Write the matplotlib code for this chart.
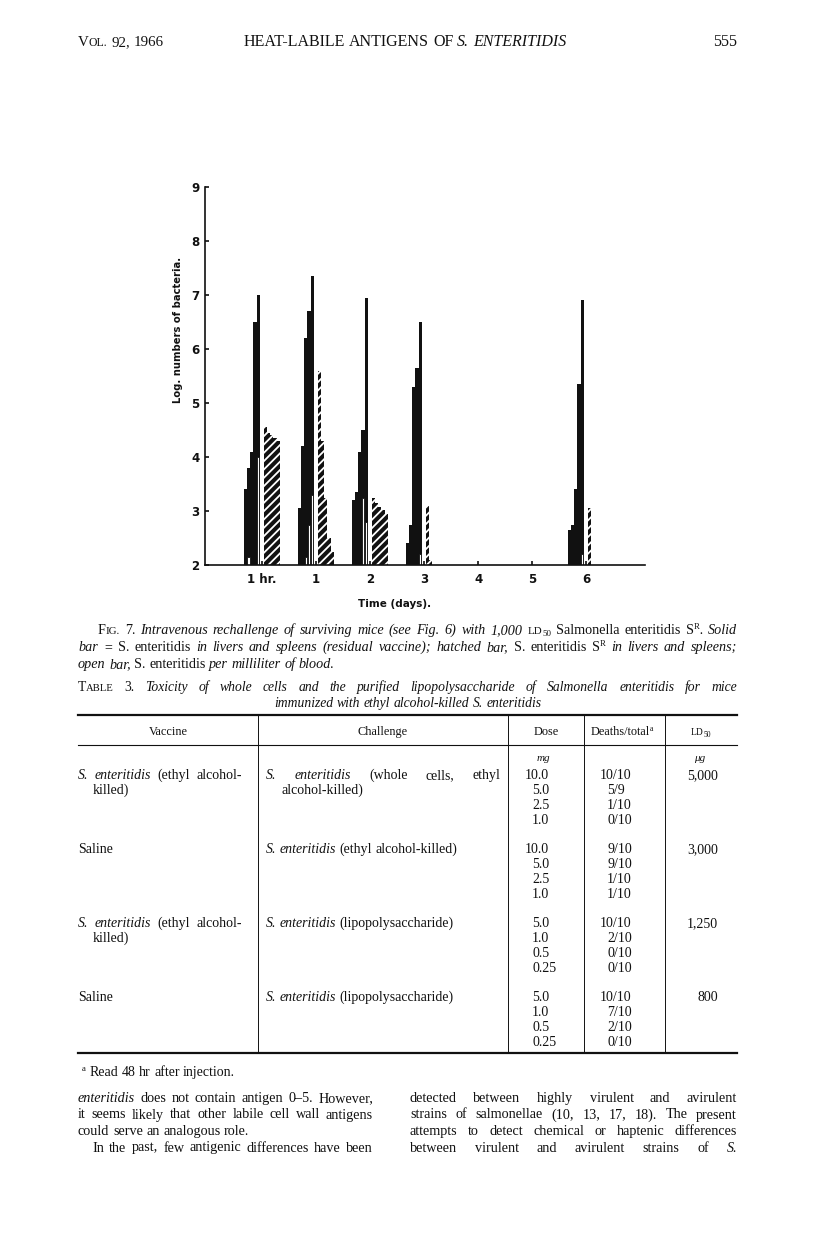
import numpy as np
import matplotlib
matplotlib.use("Agg")
import matplotlib.pyplot as plt
from matplotlib.lines import Line2D

W, H = 816, 1260
INK = "#111111"
SERIF = "Liberation Serif"

# ---- Fig. 7 data (log numbers of bacteria) ----
day_pos = [0, 1, 2, 3, 6]
tick_labels = ["1 hr.", "1", "2", "3", "4", "5", "6"]
solid_bars = [[3.4, 3.8, 4.1, 6.5, 7.0],
              [3.05, 4.2, 6.2, 6.7, 7.35],
              [3.2, 3.35, 4.1, 4.5, 6.95],
              [2.4, 2.75, 5.3, 5.65, 6.5],
              [2.65, 2.75, 3.4, 5.35, 6.9]]
open_bars = [[0, 2.15, 0, 0, 4.0],
             [0, 0, 2.15, 2.75, 3.3],
             [0, 0, 0, 3.25, 2.8],
             [0, 0, 0, 0, 2.2],
             [0, 0, 0, 0, 2.2]]
hatched_bars = [[4.55, 4.45, 4.4, 4.35, 4.3],
                [5.6, 4.3, 3.25, 2.5, 2.25],
                [3.25, 3.15, 3.08, 3.02, 2.95],
                [3.1, 2.1, 0, 0, 0],
                [3.05, 0, 0, 0, 0]]

# ---- Table 3 data ----
vaccines = [["S. enteritidis| (ethyl alcohol-", "killed)"], ["Saline"],
            ["S. enteritidis| (ethyl alcohol-", "killed)"], ["Saline"]]
challenges = [["S. enteritidis| (whole cells, ethyl", "alcohol-killed)"],
              ["S. enteritidis| (ethyl alcohol-killed)"],
              ["S. enteritidis| (lipopolysaccharide)"],
              ["S. enteritidis| (lipopolysaccharide)"]]
doses = [["10.0", "5.0", "2.5", "1.0"], ["10.0", "5.0", "2.5", "1.0"],
         ["5.0", "1.0", "0.5", "0.25"], ["5.0", "1.0", "0.5", "0.25"]]
deaths = [["10/10", "5/9", "1/10", "0/10"], ["9/10", "9/10", "1/10", "1/10"],
          ["10/10", "2/10", "0/10", "0/10"], ["10/10", "7/10", "2/10", "0/10"]]
ld50 = ["5,000", "3,000", "1,250", "800"]

fig = plt.figure(figsize=(8.16, 12.6), dpi=100)
fig.patch.set_facecolor("white")
renderer = fig.canvas.get_renderer()


def style(kind, size):
    d = dict(family=SERIF, fontsize=size, color=INK)
    if kind == "i":
        d["fontstyle"] = "italic"
    if kind == "sc":
        d["fontsize"] = size * 0.78
    if kind in ("sup", "sub"):
        d["fontsize"] = size * 0.62
    return d


def write(x, y, parts, size=9.5, align="left", to=None):
    # x, y: page pixels from top-left, y = baseline
    words = [[]]
    for txt, kind in parts:
        for k, b in enumerate(txt.split(" ")):
            if k > 0:
                words.append([])
            if b:
                words[-1].append((b, kind))
    words = [w for w in words if w]
    rows, widths = [], []
    for w in words:
        row, tot = [], 0
        for b, kind in w:
            t = fig.text(0, 0, b, va="baseline", **style(kind, size))
            wd = t.get_window_extent(renderer).width
            row.append((t, kind, wd))
            tot += wd
        rows.append(row)
        widths.append(tot)
    space = size * 100 / 72 * 0.25
    total = sum(widths) + space * (len(words) - 1)
    if to is not None and len(words) > 1:
        space = (to - x - sum(widths)) / (len(words) - 1)
    elif align == "center":
        x -= total / 2
    elif align == "right":
        x -= total
    cx = x
    for row in rows:
        for t, kind, wd in row:
            dy = {"sup": -size * 0.5, "sub": size * 0.2}.get(kind, 0)
            t.set_position((cx / W, 1 - (y + dy) / H))
            cx += wd
        cx += space


def aligned(x, y, s, sep, size):
    # put s so that its separator character starts at x
    head = s.split(sep)[0]
    t = fig.text(0, 0, head, **style("r", size))
    w = t.get_window_extent(renderer).width
    t.remove()
    fig.text((x - w) / W, 1 - y / H, s, va="baseline", **style("r", size))


def italic_split(s):
    a, b = s.split("|")
    return [(a, "i"), (b, "r")]


def rule(x0, y0, x1, y1, lw=1.0):
    fig.add_artist(Line2D([x0 / W, x1 / W], [1 - y0 / H, 1 - y1 / H],
                          transform=fig.transFigure, color=INK, lw=lw))


# ---- running head ----
write(78, 46, [("V", "r"), ("OL.", "sc"), (" 92, 1966", "r")], size=10.8)
write(405, 46, [("HEAT-LABILE ANTIGENS OF ", "r"), ("S. ENTERITIDIS", "i")],
      size=11.5, align="center")
write(737, 46, [("555", "r")], size=11.5, align="right")

# ---- chart ----
plt.rcParams["hatch.linewidth"] = 1.3
ax = fig.add_axes([205 / W, 1 - 565 / H, 440 / W, 378 / H])
bw = 0.06
for g, c in enumerate(day_pos):
    xs = [c - 0.34 + i * bw for i in range(5)]
    ax.bar(xs, solid_bars[g], bw, align="edge", color=INK, lw=0)
    for i, v in enumerate(open_bars[g]):
        if v:
            ax.bar(xs[i] + bw / 2, v, bw * 0.7, color="white",
                   edgecolor=INK, lw=0.6)
    hx = [c + 0.03 + i * bw for i in range(5)]
    for i, v in enumerate(hatched_bars[g]):
        if v:
            ax.bar(hx[i], v, bw, align="edge", color=INK, edgecolor="white",
                   hatch="////", lw=0)
ax.set_xlim(-1.056, 7.09)
ax.set_ylim(2, 9)
ax.set_xticks(range(7))
ax.set_xticklabels(tick_labels)
ax.set_yticks(range(2, 10))
for s in ["top", "right"]:
    ax.spines[s].set_visible(False)
for s in ["left", "bottom"]:
    ax.spines[s].set_linewidth(1.2)
    ax.spines[s].set_color(INK)
ax.tick_params(direction="in", length=3, width=1.2, color=INK, labelcolor=INK)
ax.tick_params(axis="x", pad=6)
ax.tick_params(axis="y", pad=4)
for lab in ax.get_xticklabels() + ax.get_yticklabels():
    lab.set_fontfamily("DejaVu Sans")
    lab.set_fontweight("bold")
    lab.set_fontsize(8.5)
ax.patch.set_alpha(0)
fig.text(178 / W, 1 - 330 / H, "Log. numbers of bacteria.", rotation=90,
         ha="center", va="center", family="DejaVu Sans", weight="bold",
         fontsize=7.2, color=INK)
fig.text(395 / W, 1 - 604 / H, "Time (days).", ha="center", va="center",
         family="DejaVu Sans", weight="bold", fontsize=7.5, color=INK)

# ---- figure legend ----
cs = 10.2
write(98, 634, [("F", "r"), ("IG.", "sc"), (" 7. ", "r"),
                ("Intravenous rechallenge of surviving mice (see Fig. 6) with 1,000 ", "i"),
                ("LD", "sc"), ("50", "sub"), (" Salmonella enteritidis S", "r"),
                ("R", "sup"), (". Solid", "i")], size=cs, to=737)
write(78, 651, [("bar = ", "i"), ("S. enteritidis", "r"),
                (" in livers and spleens (residual vaccine); hatched bar, ", "i"),
                ("S. enteritidis S", "r"), ("R", "sup"),
                (" in livers and spleens;", "i")], size=cs, to=737)
write(78, 668, [("open bar, ", "i"), ("S. enteritidis", "r"),
                (" per milliliter of blood.", "i")], size=cs)

# ---- table title ----
write(78, 691, [("T", "r"), ("ABLE", "sc"), (" 3. ", "r"),
                ("Toxicity of whole cells and the purified lipopolysaccharide of "
                 "Salmonella enteritidis for mice", "i")], size=9.8, to=737)
write(408, 707, [("immunized with ethyl alcohol-killed S. enteritidis", "i")],
      size=9.8, align="center")

# ---- table rules ----
rule(78, 715, 737, 715, lw=1.6)
rule(78, 745, 737, 745, lw=0.8)
rule(78, 1053, 737, 1053, lw=1.6)
for vx in [258, 508, 584, 665]:
    rule(vx, 715, vx, 1053, lw=0.7)

hs = 8.8
write(168, 735, [("Vaccine", "r")], size=hs, align="center")
write(383, 735, [("Challenge", "r")], size=hs, align="center")
write(546, 735, [("Dose", "r")], size=hs, align="center")
write(622, 735, [("Deaths/total", "r"), ("a", "sup")], size=hs, align="center")
write(701, 735, [("LD", "sc"), ("50", "sub")], size=hs, align="center")
write(543, 761, [("mg", "i")], size=8, align="center")
write(700, 761, [("μg", "i")], size=8, align="center")

ts = 10
row_h = 15
for g in range(4):
    y0 = 779 + g * 74
    for k, txt in enumerate(vaccines[g]):
        if "|" in txt:
            write(78, y0 + k * row_h, italic_split(txt), size=ts, to=242)
        else:
            write(78 if k == 0 else 93, y0 + k * row_h, [(txt, "r")], size=ts)
    for k, txt in enumerate(challenges[g]):
        if "|" in txt:
            end = 500 if len(challenges[g]) > 1 else None
            write(266, y0 + k * row_h, italic_split(txt), size=ts, to=end)
        else:
            write(281, y0 + k * row_h, [(txt, "r")], size=ts)
    for k in range(4):
        yy = y0 + k * row_h
        aligned(539, yy, doses[g][k], ".", ts)
        aligned(614, yy, deaths[g][k], "/", ts)
    write(718, y0, [(ld50[g], "r")], size=ts, align="right")

write(82, 1076, [("a", "sup"), (" Read 48 hr after injection.", "r")], size=ts)

# ---- body text ----
bs = 10.2
left_col = [([("enteritidis", "i"), (" does not contain antigen 0–5. However,", "r")], 78, 373),
            ([("it seems likely that other labile cell wall antigens", "r")], 78, 373),
            ([("could serve an analogous role.", "r")], 78, None),
            ([("In the past, few antigenic differences have been", "r")], 92, 373)]
right_col = [([("detected between highly virulent and avirulent", "r")], 410, 737),
             ([("strains of salmonellae (10, 13, 17, 18). The present", "r")], 410, 737),
             ([("attempts to detect chemical or haptenic differences", "r")], 410, 737),
             ([("between virulent and avirulent strains of ", "r"), ("S.", "i")], 410, 737)]
for k, (parts, x, end) in enumerate(left_col):
    write(x, 1102 + k * 16.5, parts, size=bs, to=end)
for k, (parts, x, end) in enumerate(right_col):
    write(x, 1102 + k * 16.5, parts, size=bs, to=end)

fig.savefig("out.png", dpi=100, facecolor="white")
